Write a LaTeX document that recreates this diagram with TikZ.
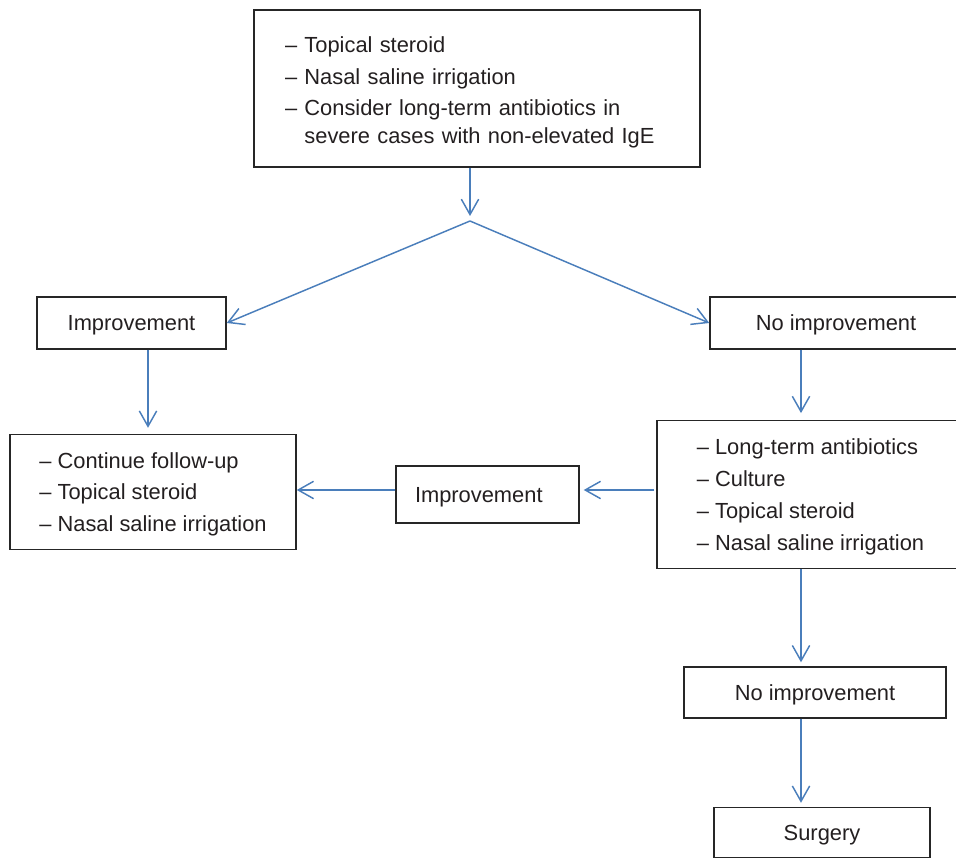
\documentclass[tikz,border=0pt]{standalone}
\usepackage{fontspec}
\setmainfont{Liberation Sans}
\usetikzlibrary{arrows.meta}
\definecolor{pfeilblau}{RGB}{74,126,187}
\definecolor{schrift}{RGB}{35,31,32}

\begin{document}
\begin{tikzpicture}[x=0.75pt,y=-0.75pt,
    kasten/.style={draw=black!85, line width=1.1pt, inner sep=0pt, align=left,
      text=schrift, text depth=0pt, font=\fontsize{16.4}{21}\selectfont},
    pfeil/.style={draw=pfeilblau, line width=1.1pt,
      -{Straight Barb[length=11.5pt,width=13pt]}}]
  \useasboundingbox (0,0) rectangle (956,859);

  % Anfangstherapie
  \node[kasten, text depth=, minimum height=117.75pt, text width=288pt, inner xsep=23.25pt] (therapie) at (477,88.5)
    {\rule{0pt}{18pt}-- Topical steroid\\[2.8pt]
     -- Nasal saline irrigation\\[2.8pt]
     -- Consider long-term antibiotics in\\
     \phantom{--~}severe cases with non-elevated IgE};

  % Verzweigung
  \coordinate (gabel) at (470,221);

  % Erste Ebene
  \node[kasten, minimum width=141.75pt, minimum height=39pt] (besser) at (131.5,323) {Improvement};
  \node[kasten, minimum width=189pt, minimum height=39pt] (nichtbesser) at (836,323) {No improvement};

  % Zweite Ebene
  \node[kasten, minimum width=214.5pt, minimum height=86.25pt] (weiter) at (153,492)
    {-- Continue follow-up\\[2.6pt]
     -- Topical steroid\\[2.6pt]
     -- Nasal saline irrigation};
  \node[kasten, minimum height=42.75pt, text width=108.75pt, inner xsep=14.25pt] (besser2) at (487.5,494.5) {Improvement};
  \node[kasten, minimum width=230.25pt, minimum height=111pt] (antibiotika) at (810.5,494.5)
    {-- Long-term antibiotics\\[3.2pt]
     -- Culture\\[3.2pt]
     -- Topical steroid\\[3.2pt]
     -- Nasal saline irrigation};

  % Unten
  \node[kasten, minimum width=196.5pt, minimum height=38.25pt] (nichtbesser2) at (815,692.5) {No improvement};
  \node[kasten, minimum width=162pt, minimum height=37.5pt] (operation) at (822,832.5) {Surgery};

  % Hilfslinien fuer die Pfeile
  \coordinate (links) at (148,0);
  \coordinate (rechts) at (801,0);
  \coordinate (mitte) at (0,490);

  % Pfeile
  \draw[pfeil, shorten >=3.75pt] (therapie.south -| gabel) -- (gabel);
  \draw[pfeil] (gabel) -- (besser.east);
  \draw[pfeil] (gabel) -- (nichtbesser.west);
  \draw[pfeil, shorten >=4.5pt] (besser.south -| links) -- (weiter.north -| links);
  \draw[pfeil, shorten >=5pt] (nichtbesser.south -| rechts) -- (antibiotika.north -| rechts);
  \draw[pfeil, shorten <=1.5pt, shorten >=3pt] (antibiotika.west |- mitte) -- (besser2.east |- mitte);
  \draw[pfeil] (besser2.west |- mitte) -- (weiter.east |- mitte);
  \draw[pfeil, shorten >=3pt] (antibiotika.south -| rechts) -- (nichtbesser2.north -| rechts);
  \draw[pfeil, shorten >=3pt] (nichtbesser2.south -| rechts) -- (operation.north -| rechts);
\end{tikzpicture}
\end{document}
